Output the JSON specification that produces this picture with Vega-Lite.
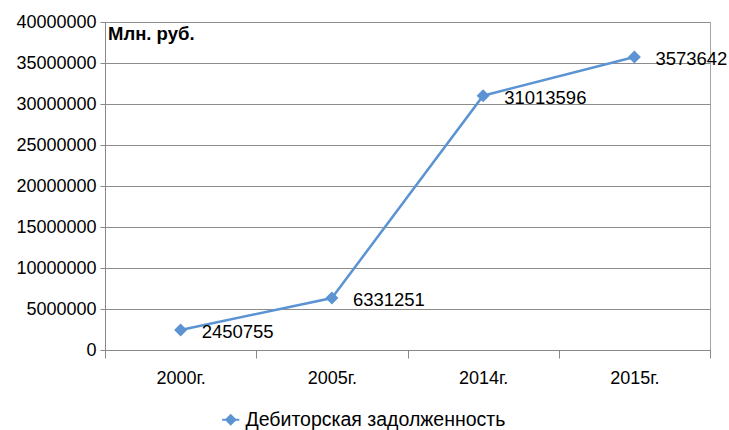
{
  "$schema": "https://vega.github.io/schema/vega-lite/v6.json",
  "width": 605,
  "height": 328,
  "autosize": {"type": "none"},
  "padding": {"left": 105, "top": 22, "right": 19, "bottom": 80},
  "background": "white",
  "config": {
    "font": "Liberation Sans",
    "view": {"stroke": "#a6a6a6", "strokeWidth": 1}
  },
  "title": {
    "text": "Млн. руб.",
    "anchor": "start",
    "frame": "group",
    "orient": "top",
    "offset": -49,
    "dx": 3,
    "fontSize": 18.5,
    "fontWeight": "bold",
    "color": "#000000",
    "baseline": "bottom"
  },
  "data": {
    "values": [
      {"year": "2000г.", "value": 2450755, "label": "2450755", "series": "Дебиторская задолженность"},
      {"year": "2005г.", "value": 6331251, "label": "6331251", "series": "Дебиторская задолженность"},
      {"year": "2014г.", "value": 31013596, "label": "31013596", "series": "Дебиторская задолженность"},
      {"year": "2015г.", "value": 35736420, "label": "3573642", "series": "Дебиторская задолженность"}
    ]
  },
  "encoding": {
    "x": {
      "field": "year",
      "type": "ordinal",
      "sort": null,
      "title": null,
      "axis": {
        "labelAngle": 0,
        "labelFontSize": 18,
        "labelColor": "#000000",
        "labelPadding": 11,
        "tickBand": "extent",
        "tickSize": 8,
        "tickColor": "#888888",
        "domainColor": "#888888",
        "grid": false
      }
    },
    "y": {
      "field": "value",
      "type": "quantitative",
      "title": null,
      "scale": {"domain": [0, 40000000], "nice": false},
      "axis": {
        "values": [0, 5000000, 10000000, 15000000, 20000000, 25000000, 30000000, 35000000, 40000000],
        "format": "d",
        "labelFontSize": 18,
        "labelColor": "#000000",
        "labelPadding": 4,
        "tickSize": 5,
        "tickColor": "#888888",
        "domainColor": "#888888",
        "gridColor": "#8c8c8c",
        "gridWidth": 1
      }
    }
  },
  "layer": [
    {
      "mark": {"type": "line", "color": "#6f9fd8", "strokeWidth": 2.5},
      "encoding": {
        "color": {
          "field": "series",
          "type": "nominal",
          "scale": {"range": ["#5b93d3"]},
          "legend": {
            "title": null,
            "orient": "none",
            "legendX": 116,
            "legendY": 388,
            "labelFontSize": 19.5,
            "labelLimit": 0,
            "labelColor": "#000000",
            "symbolType": "M-1.4,0H1.4M0,-0.75L0.75,0L0,0.75L-0.75,0Z",
            "symbolSize": 150,
            "symbolStrokeWidth": 2,
            "symbolStrokeColor": "#5b93d3",
            "symbolFillColor": "#5b93d3",
            "labelOffset": 5
          }
        }
      }
    },
    {
      "mark": {"type": "point", "shape": "diamond", "filled": true, "size": 170, "color": "#5b93d3", "opacity": 1}
    },
    {
      "mark": {"type": "text", "align": "left", "baseline": "middle", "dx": 21, "dy": 2, "fontSize": 18.5, "color": "#000000"},
      "encoding": {"text": {"field": "label"}}
    }
  ]
}
